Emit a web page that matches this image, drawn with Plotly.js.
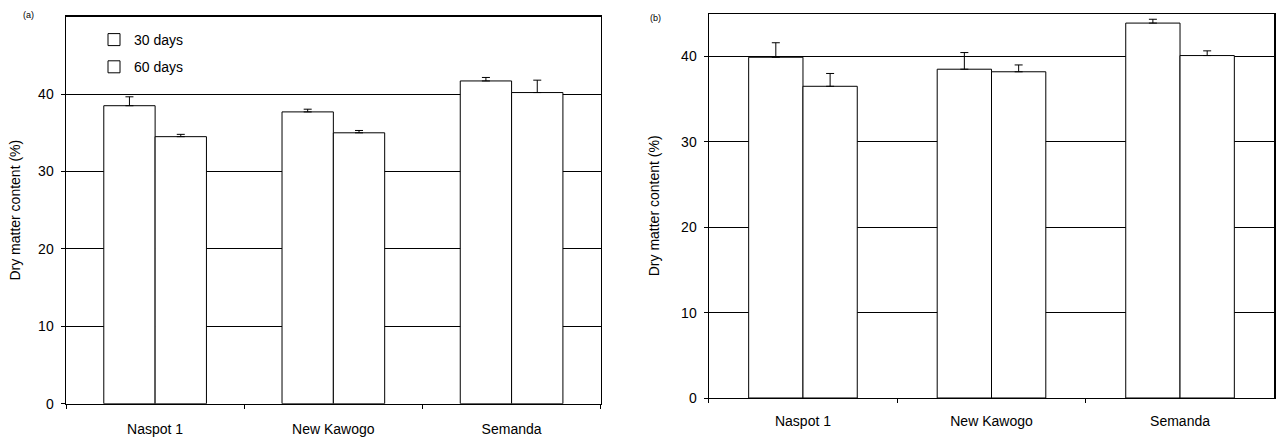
<!DOCTYPE html>
<html>
<head>
<meta charset="utf-8">
<script src="https://cdn.plot.ly/plotly-3.0.1.min.js"></script>
<style>html,body{margin:0;padding:0;background:#fff;}#chart{width:1278px;height:439px;}</style>
</head>
<body>
<div id="chart"></div>
<script>
var categories = ['Naspot 1', 'New Kawogo', 'Semanda'];
var seriesNames = ['30 days', '60 days'];
var a30 = [38.5, 37.7, 41.7];
var a30err = [1.15, 0.35, 0.45];
var a60 = [34.5, 35.0, 40.2];
var a60err = [0.3, 0.3, 1.6];
var b30 = [39.9, 38.5, 43.9];
var b30err = [1.7, 1.95, 0.45];
var b60 = [36.5, 38.2, 40.1];
var b60err = [1.5, 0.8, 0.55];
var yTicks = [0, 10, 20, 30, 40];

var W = 1278, H = 439;
function px(x) { return x / W; }
function py(y) { return (H - y) / H; }
var FONT = 'Liberation Sans, Arial, sans-serif';

function barTrace(name, vals, errs, xa, ya, show, grp) {
  return {
    type: 'bar', name: name, x: categories, y: vals,
    xaxis: xa, yaxis: ya, showlegend: show, legendgroup: grp,
    marker: {color: '#ffffff', line: {color: '#000000', width: 1}},
    error_y: {type: 'data', symmetric: false, array: errs,
              arrayminus: errs.map(function(){return 0;}),
              color: '#000000', thickness: 1, width: 4},
    hoverinfo: 'x+y'
  };
}

var data = [
  barTrace(seriesNames[0], a30, a30err, 'x', 'y', true, 'g1'),
  barTrace(seriesNames[1], a60, a60err, 'x', 'y', true, 'g2'),
  barTrace(seriesNames[0], b30, b30err, 'x2', 'y2', false, 'g1'),
  barTrace(seriesNames[1], b60, b60err, 'x2', 'y2', false, 'g2')
];

function xAxis(dom, anchor, lw, stand) {
  return {
    domain: dom, anchor: anchor, type: 'category',
    showline: true, linecolor: '#000', linewidth: lw, mirror: true,
    ticks: 'outside', tickson: 'boundaries', ticklen: 4, tickcolor: '#000', tickwidth: 1,
    ticklabelstandoff: stand,
    showgrid: false, zeroline: false, fixedrange: true,
    tickfont: {family: FONT, size: 14, color: '#000'}
  };
}
function yAxis(dom, anchor, rng, lw, standoff) {
  return {
    domain: dom, anchor: anchor, range: rng,
    tickmode: 'array', tickvals: yTicks, ticktext: yTicks.map(String),
    showline: true, linecolor: '#000', linewidth: lw, mirror: true,
    ticks: 'outside', ticklen: 4, tickcolor: '#000', tickwidth: 1,
    ticklabelstandoff: 4,
    showgrid: true, gridcolor: '#000', gridwidth: 1, zeroline: false, fixedrange: true,
    tickfont: {family: FONT, size: 14, color: '#000'},
    title: {text: 'Dry matter content (%)', standoff: standoff,
            font: {family: FONT, size: 14, color: '#000'}}
  };
}

var layout = {
  width: W, height: H,
  margin: {l: 0, r: 0, t: 0, b: 0, pad: 0},
  paper_bgcolor: '#fff', plot_bgcolor: 'rgba(0,0,0,0)',
  barmode: 'group', bargap: 0.424, bargroupgap: 0,
  font: {family: FONT, size: 14, color: '#000'},
  xaxis: xAxis([px(66), px(600.7)], 'y', 1.5, 12),
  yaxis: yAxis([py(403.7), py(16.7)], 'x', [0, 50], 1.5, 14),
  xaxis2: xAxis([px(708.7), px(1274.3)], 'y2', 1.2, 10),
  yaxis2: yAxis([py(398), py(13.7)], 'x2', [0, 45], 1.2, 18),
  showlegend: true,
  legend: {
    x: px(94), y: py(24), xanchor: 'left', yanchor: 'top',
    bgcolor: 'rgba(0,0,0,0)', borderwidth: 0,
    traceorder: 'grouped', tracegroupgap: 6,
    font: {family: FONT, size: 14, color: '#000'}
  },
  annotations: [
    {text: '(a)', xref: 'paper', yref: 'paper', x: px(28), y: py(15),
     xanchor: 'center', yanchor: 'middle', showarrow: false,
     font: {family: FONT, size: 9, color: '#000'}},
    {text: '(b)', xref: 'paper', yref: 'paper', x: px(655), y: py(18),
     xanchor: 'center', yanchor: 'middle', showarrow: false,
     font: {family: FONT, size: 9, color: '#000'}}
  ]
};

Plotly.newPlot('chart', data, layout, {displayModeBar: false, staticPlot: true});
</script>
</body>
</html>
